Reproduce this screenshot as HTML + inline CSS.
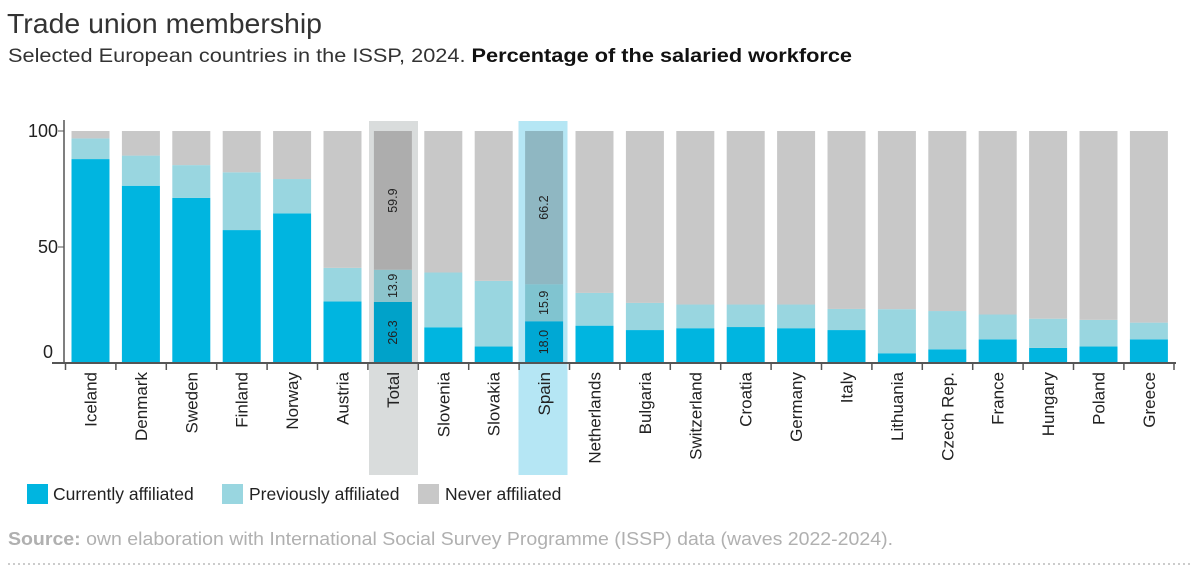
<!DOCTYPE html>
<html><head><meta charset="utf-8"><style>
body{margin:0;background:#fff;width:1200px;height:576px;overflow:hidden;font-family:"Liberation Sans",sans-serif}
</style></head><body>
<svg width="1200" height="576" xmlns="http://www.w3.org/2000/svg" font-family="Liberation Sans, sans-serif">
<text x="7" y="33" font-size="27.5" fill="#333" textLength="315" lengthAdjust="spacingAndGlyphs">Trade union membership</text>
<text x="8" y="62" font-size="19.5" fill="#333" textLength="844" lengthAdjust="spacingAndGlyphs">Selected European countries in the ISSP, 2024. <tspan font-weight="bold" fill="#111">Percentage of the salaried workforce</tspan></text>
<rect x="369" y="121" width="49" height="354" fill="#d9dcdc"/>
<rect x="518.5" y="121" width="49" height="354" fill="#b5e6f4"/>
<g id="bars"></g>
<line x1="64" y1="120" x2="64" y2="363" stroke="#555" stroke-width="1.5"/>
<line x1="52" y1="363" x2="1176" y2="363" stroke="#555" stroke-width="2"/>
<line x1="58" y1="131" x2="64" y2="131" stroke="#555"/>
<line x1="58" y1="247" x2="64" y2="247" stroke="#555"/>
<g font-size="18" fill="#222" text-anchor="end">
<text x="58" y="137">100</text><text x="58" y="253">50</text><text x="53" y="358">0</text>
</g>
<g id="ticks" stroke="#555" stroke-width="1.5"></g>
<g id="labels" font-size="17" fill="#222"></g>
<rect x="27" y="484" width="21" height="20" fill="#00b5e0"/>
<text x="53" y="500" font-size="17.5" fill="#222">Currently affiliated</text>
<rect x="222" y="484" width="21" height="20" fill="#99d6e0"/>
<text x="249" y="500" font-size="17.5" fill="#222">Previously affiliated</text>
<rect x="418" y="484" width="21" height="20" fill="#c8c8c8"/>
<text x="445" y="500" font-size="17.5" fill="#222">Never affiliated</text>
<text x="8" y="545" font-size="18" fill="#b0b0b0" textLength="885" lengthAdjust="spacingAndGlyphs"><tspan font-weight="bold">Source:</tspan> own elaboration with International Social Survey Programme (ISSP) data (waves 2022-2024).</text>
<line x1="8" y1="564" x2="1192" y2="564" stroke="#bbb" stroke-width="1.5" stroke-dasharray="2,3"/>
</svg>
<script>
var d=[["Iceland",87.9,96.8],["Denmark",76.4,89.4],["Sweden",71.2,85.3],["Finland",57.3,82.2],["Norway",64.5,79.3],["Austria",26.5,41],["Total",26.3,40.2],["Slovenia",15.4,39],["Slovakia",7.1,35.4],["Spain",18.0,33.9],["Netherlands",16.1,30.2],["Bulgaria",14.2,25.9],["Switzerland",15,25.2],["Croatia",15.5,25.2],["Germany",15,25.2],["Italy",14.2,23.3],["Lithuania",4.2,23.2],["Czech Rep.",5.9,22.4],["France",10.2,20.9],["Hungary",6.5,19.1],["Poland",7.1,18.6],["Greece",10.2,17.4]];
var ns="http://www.w3.org/2000/svg",B=document.getElementById("bars"),T=document.getElementById("ticks"),L=document.getElementById("labels");
function y(v){return 363-v*2.32}
function r(x,v1,v2,c){var e=document.createElementNS(ns,"rect");e.setAttribute("x",x);e.setAttribute("width",38);e.setAttribute("y",y(v2));e.setAttribute("height",y(v1)-y(v2));e.setAttribute("fill",c);B.appendChild(e)}
function t(x,yy,s,p){var e=document.createElementNS(ns,"text");e.setAttribute("transform","translate("+x+","+yy+") rotate(-90)");e.setAttribute("text-anchor",p?"middle":"end");e.textContent=s;if(p){e.setAttribute("font-size","12.5");e.setAttribute("fill","#222");B.appendChild(e)}else L.appendChild(e)}
d.forEach(function(a,i){var x=71.5+i*50.4,c=["#00b5e0","#99d6e0","#c8c8c8"];
if(a[0]=="Total")c=["#00a2c9","#8cc4cc","#adadad"];if(a[0]=="Spain")c=["#00a8d4","#80c4d0","#8fb7c2"];
r(x,0,a[1],c[0]);r(x,a[1],a[2],c[1]);r(x,a[2],100,c[2]);
var cx=x+19;t(cx+6,372,a[0]);
var tl=document.createElementNS(ns,"line");tl.setAttribute("x1",x-6);tl.setAttribute("x2",x-6);tl.setAttribute("y1",363);tl.setAttribute("y2",370);T.appendChild(tl);
if(a[0]=="Total"){t(cx+4,y(a[1]/2),"26.3",1);t(cx+4,y((a[1]+a[2])/2),"13.9",1);t(cx+4,y(70),"59.9",1)}
if(a[0]=="Spain"){t(cx+4,y(a[1]/2),"18.0",1);t(cx+4,y((a[1]+a[2])/2),"15.9",1);t(cx+4,y(67),"66.2",1)}
});
var tl=document.createElementNS(ns,"line");tl.setAttribute("x1",1174);tl.setAttribute("x2",1174);tl.setAttribute("y1",363);tl.setAttribute("y2",370);T.appendChild(tl);
</script>
</body></html>
